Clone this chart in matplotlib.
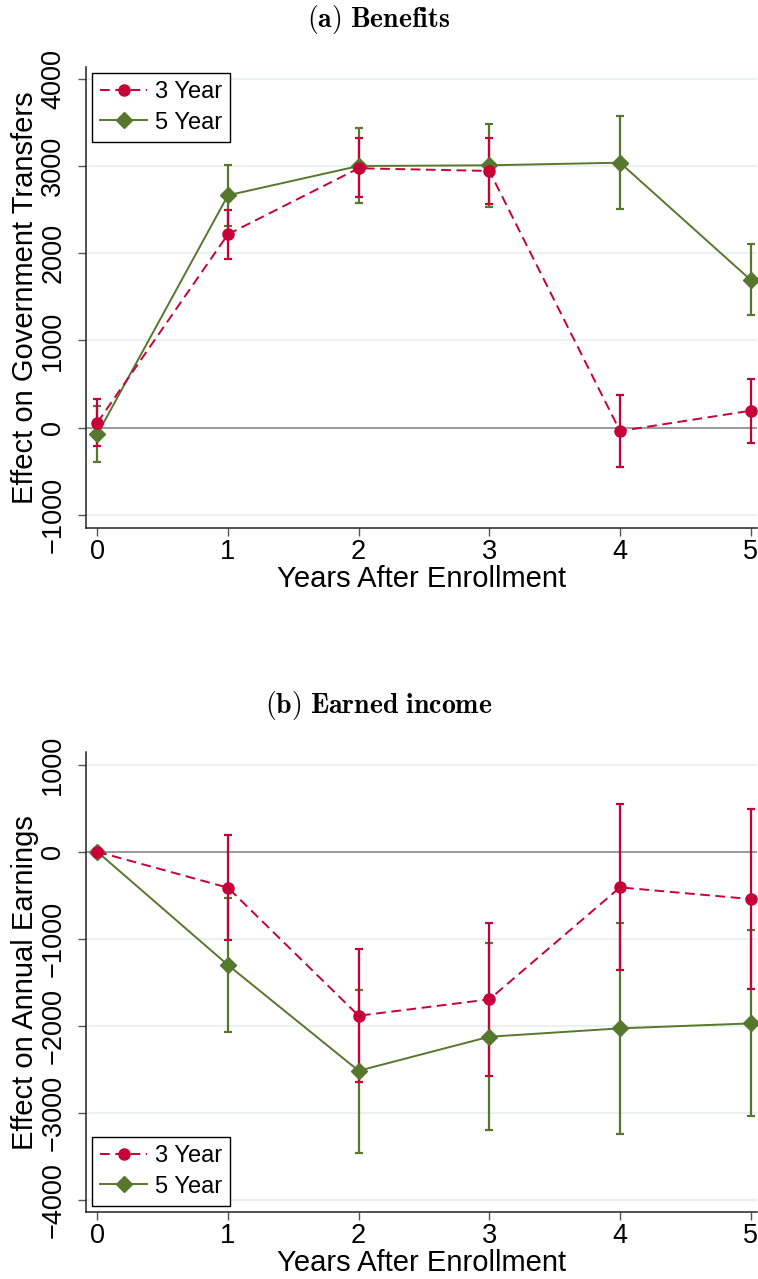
import numpy as np
import matplotlib
matplotlib.use("Agg")
import matplotlib.pyplot as plt

plt.rcParams['font.family'] = ['Liberation Sans', 'DejaVu Sans']
plt.rcParams['mathtext.fontset'] = 'cm'
plt.rcParams['lines.scale_dashes'] = False

# Years after enrollment
years = [0, 1, 2, 3, 4, 5]

# (a) Benefits: point estimates and 95% CI bounds
ben_3y = [57, 2218, 2975, 2944, -38, 195]
ben_3y_lo = [-210, 1938, 2650, 2569, -451, -172]
ben_3y_hi = [329, 2497, 3319, 3319, 371, 562]
ben_5y = [-76, 2665, 3001, 3009, 3039, 1694]
ben_5y_lo = [-397, 2317, 2580, 2527, 2504, 1292]
ben_5y_hi = [249, 3016, 3440, 3486, 3575, 2103]

# (b) Earned income
inc_3y = [0, -413, -1883, -1695, -409, -543]
inc_3y_lo = [0, -1018, -2641, -2576, -1362, -1577]
inc_3y_hi = [0, 192, -1117, -822, 544, 487]
inc_5y = [0, -1301, -2515, -2124, -2028, -1971]
inc_5y_lo = [0, -2074, -3457, -3192, -3242, -3035]
inc_5y_hi = [0, -535, -1588, -1048, -815, -896]

RED = '#C8003A'
GREEN = '#56782D'


def panel(ax, p3, lo3, hi3, p5, lo5, hi5, yticks, ylim, ylabel, legend_loc, anchor):
    x = np.array(years)
    for p, lo, hi, c in [(p5, lo5, hi5, GREEN), (p3, lo3, hi3, RED)]:
        p, lo, hi = np.array(p), np.array(lo), np.array(hi)
        ax.errorbar(x, p, yerr=[p - lo, hi - p], fmt='none', ecolor=c,
                    elinewidth=1.6, capsize=3.0, capthick=1.6, zorder=3)
    ax.plot(x, p5, color=GREEN, lw=1.4, marker='D', ms=8.5, label='5 Year', zorder=4)
    ax.plot(x, p3, color=RED, lw=1.4, marker='o', ms=8, dashes=(7, 4),
            label='3 Year', zorder=5)

    ax.axhline(0, color='#9a9a9a', lw=1.4, zorder=2)
    for t in yticks:
        if t != 0:
            ax.axhline(t, color='#EAF1F3', lw=1.4, zorder=1)

    ax.set_xlim(-0.089, 5.05)
    ax.set_ylim(*ylim)
    ax.set_xticks(years)
    ax.set_yticks(yticks)
    ax.set_yticklabels([str(t).replace('-', '\u2212') for t in yticks],
                       rotation=90, va='center')
    ax.tick_params(axis='y', labelsize=19.5, length=6, width=1, color='#555555', pad=8)
    ax.tick_params(axis='x', labelsize=19.5, length=6, width=1, color='#555555', pad=2)
    for s in ['top', 'right']:
        ax.spines[s].set_visible(False)
    for s in ['left', 'bottom']:
        ax.spines[s].set_linewidth(1.1)
        ax.spines[s].set_color('#222222')
    ax.set_xlabel('Years After Enrollment', fontsize=21, labelpad=0)
    ax.set_ylabel(ylabel, fontsize=21, labelpad=1)

    h, l = ax.get_legend_handles_labels()
    leg = ax.legend(h[::-1], l[::-1], loc=legend_loc, bbox_to_anchor=anchor,
                    fontsize=17, frameon=True, fancybox=False, framealpha=1,
                    edgecolor='black', handlelength=2.0, handletextpad=0.3,
                    labelspacing=0.35, borderpad=0.35, borderaxespad=0)
    leg.get_frame().set_linewidth(1.0)


fig = plt.figure(figsize=(7.58, 12.79), dpi=100)

ax1 = fig.add_axes([0.113, 0.5874, 0.886, 0.3602])
panel(ax1, ben_3y, ben_3y_lo, ben_3y_hi, ben_5y, ben_5y_lo, ben_5y_hi,
      [-1000, 0, 1000, 2000, 3000, 4000], (-1147, 4136),
      'Effect on Government Transfers', 'upper left', (0.0094, 0.987))

ax2 = fig.add_axes([0.113, 0.0521, 0.886, 0.3601])
panel(ax2, inc_3y, inc_3y_lo, inc_3y_hi, inc_5y, inc_5y_lo, inc_5y_hi,
      [-4000, -3000, -2000, -1000, 0, 1000], (-4141, 1148),
      'Effect on Annual Earnings', 'lower left', (0.0094, 0.0143))

fig.text(0.5, 1 - 20 / 1279, r'$\mathbf{(a)\ Benefits}$', ha='center', va='center', fontsize=20)
fig.text(0.5, 1 - 705 / 1279, r'$\mathbf{(b)\ Earned\ income}$', ha='center', va='center', fontsize=20)

fig.savefig('out.png', dpi=100)
